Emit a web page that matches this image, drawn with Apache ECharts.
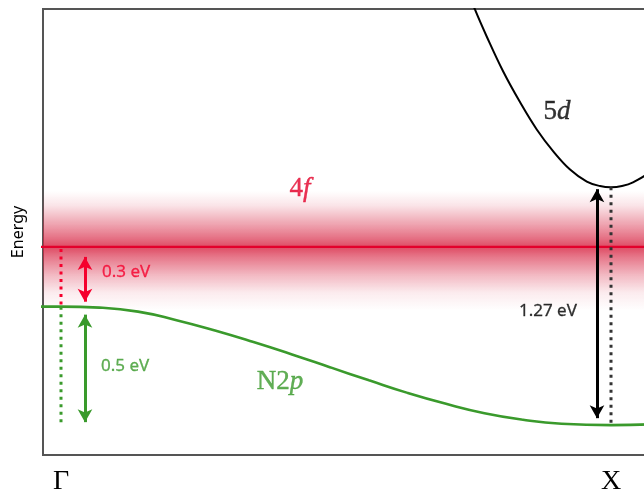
<!DOCTYPE html>
<html><head><meta charset="utf-8">
<script src="https://cdn.jsdelivr.net/npm/echarts@6/dist/echarts.min.js"></script>
<style>html,body{margin:0;padding:0;background:#fff;overflow:hidden}#c{width:650px;height:496px}</style>
</head><body><div id="c"></div>
<script>
// k-path position (Γ = 0, X = 1) and energy (eV, 4f level = 0)
var kTicks = [0, 1];
var kTickLabels = ['Γ', 'X'];
var level4f = [[-0.05, 0], [1.08, 0]];
var bandN2p = [[-0.04,-0.30],[0,-0.30],[0.07,-0.305],[0.14,-0.325],[0.21,-0.368],[0.28,-0.42],[0.35,-0.478],[0.42,-0.54],[0.49,-0.605],[0.56,-0.67],[0.63,-0.733],[0.70,-0.788],[0.77,-0.835],[0.84,-0.868],[0.91,-0.888],[1.0,-0.895],[1.08,-0.89]];
var band5d = [[0.738,1.30],[0.753,1.19],[0.774,1.057],[0.804,0.881],[0.835,0.725],[0.865,0.59],[0.895,0.48],[0.925,0.39],[0.956,0.328],[0.98,0.306],[1.0,0.30],[1.02,0.306],[1.04,0.324],[1.08,0.39]];
var bandWidth4f = [0.28, -0.32];
var gapRed = [[0.0436,-0.05],[0.0436,-0.275]];
var gapGreen = [[0.0436,-0.34],[0.0436,-0.88]];
var gapBlack = [[0.9745,0.29],[0.9745,-0.86]];
var dotRed = [[0,-0.01],[0,-0.30]];
var dotGreen = [[0,-0.30],[0,-0.90]];
var dotBlack = [[1,0.30],[1,-0.895]];
var labels = [
  {name:'4f', value:[0.4345,0.29]},
  {name:'5d', value:[0.902,0.68]},
  {name:'N2p', value:[0.398,-0.68]}
];
var gapLabels = [
  {name:'0.3 eV', value:[0.0745,-0.125]},
  {name:'0.5 eV', value:[0.0727,-0.60]},
  {name:'1.27 eV', value:[0.938,-0.325]}
];

var RED='#e3002b', BRIGHT='#f5002d', GREEN='#3a9a2c';
var mathColors = {'4f':RED, '5d':'#000', 'N2p':GREEN};
var gapColors = {'0.3 eV':BRIGHT, '0.5 eV':GREEN, '1.27 eV':'#000'};
var gapAlign = {'0.3 eV':'left', '0.5 eV':'left', '1.27 eV':'right'};
var chart = echarts.init(document.getElementById('c'));
var mathRich = {
  u:{fontFamily:'Liberation Serif', fontSize:27},
  i:{fontFamily:'Liberation Serif', fontSize:27, fontStyle:'italic'}
};
function arrowLine(seg, color){
  return {type:'line', data:[], silent:true,
    markLine:{silent:true, symbol:['arrow','arrow'], symbolSize:[11,13], label:{show:false},
      lineStyle:{color:color, width:3, type:'solid', opacity:1},
      emphasis:{disabled:true},
      data:[[{coord:seg[0]},{coord:seg[1]}]]}};
}
function dotLine(seg, color){
  return {type:'line', data:seg, symbol:'none', silent:true,
    lineStyle:{color:color, width:3, type:[3,4.5]}};
}
chart.setOption({
  animation:false,
  grid:{left:43, right:0, top:9, bottom:39, show:true, borderColor:'#555', borderWidth:2, backgroundColor:'transparent'},
  xAxis:{type:'value', min:-0.03273, max:1.0709, position:'bottom',
    axisLine:{show:true, lineStyle:{color:'#555', width:2}},
    axisTick:{show:false}, splitLine:{show:false},
    axisLabel:{customValues:kTicks, margin:13,
      formatter:function(v){return kTickLabels[kTicks.indexOf(v)];},
      fontFamily:'Liberation Serif', fontSize:28, color:'#000'}},
  yAxis:{type:'value', min:-1.045, max:1.195, name:'Energy', nameLocation:'middle',
    nameGap:17, nameTextStyle:{fontFamily:'Noto Sans', fontSize:16, color:'#000'},
    axisLine:{show:true, onZero:false, lineStyle:{color:'#555', width:2}},
    axisTick:{show:false}, splitLine:{show:false}, axisLabel:{show:false}},
  series:[
    {type:'line', data:level4f, symbol:'none', silent:true, z:3,
      lineStyle:{color:RED, width:2.2},
      markArea:{silent:true, itemStyle:{color:new echarts.graphic.LinearGradient(0,0,0,1,[
        {offset:0, color:'rgba(215,35,65,0)'},
        {offset:0.12, color:'rgba(215,35,65,0.12)'},
        {offset:0.28, color:'rgba(215,35,65,0.42)'},
        {offset:0.40, color:'rgba(215,35,65,0.66)'},
        {offset:0.467, color:'rgba(215,35,65,0.82)'},
        {offset:0.55, color:'rgba(215,35,65,0.62)'},
        {offset:0.70, color:'rgba(215,35,65,0.32)'},
        {offset:0.85, color:'rgba(215,35,65,0.09)'},
        {offset:1, color:'rgba(215,35,65,0)'}])},
        data:[[{coord:[-0.05,bandWidth4f[0]]},{coord:[1.08,bandWidth4f[1]]}]]}},
    {type:'line', data:bandN2p, symbol:'none', smooth:0.5, silent:true,
      lineStyle:{color:GREEN, width:2.6}},
    {type:'line', data:band5d, symbol:'none', smooth:0.4, silent:true,
      lineStyle:{color:'#000', width:2}},
    dotLine(dotRed, BRIGHT),
    dotLine(dotGreen, GREEN),
    dotLine(dotBlack, '#333'),
    arrowLine(gapRed, BRIGHT),
    arrowLine(gapGreen, GREEN),
    arrowLine(gapBlack, '#000'),
    {type:'scatter', symbolSize:0, silent:true,
      data:labels.map(function(d){return {name:d.name, value:d.value,
        label:{color:mathColors[d.name], textBorderColor:mathColors[d.name]}};}),
      label:{show:true, position:'inside', rich:mathRich, textBorderWidth:0.4,
        formatter:function(p){
          if(p.name==='4f') return '{u|4}{i|f}';
          if(p.name==='5d') return '{u|5}{i|d}';
          return '{u|N2}{i|p}';
        }},
      itemStyle:{color:'transparent'}},
    {type:'scatter', symbolSize:0, silent:true,
      data:gapLabels.map(function(d){return {name:d.name, value:d.value,
        label:{color:gapColors[d.name], align:gapAlign[d.name], textBorderColor:gapColors[d.name]}};}),
      label:{show:true, position:'inside', formatter:'{b}', textBorderWidth:0.3,
        fontFamily:'Noto Sans', fontSize:17},
      itemStyle:{color:'transparent'}}
  ]
});
</script></body></html>
